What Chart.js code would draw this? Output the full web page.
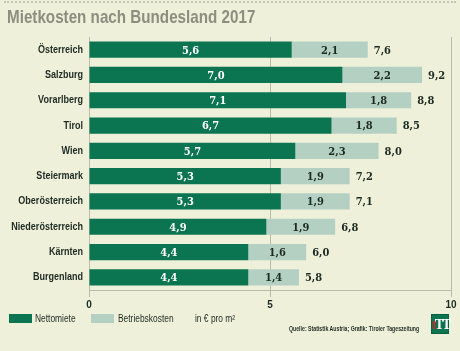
<!DOCTYPE html>
<html>
<head>
<meta charset="utf-8">
<script src="https://cdn.jsdelivr.net/npm/chart.js@4/dist/chart.umd.min.js"></script>
<style>
  body { margin: 0; background: #eef0da; }
  #wrap { position: relative; width: 460px; height: 351px; background: #eef0da; overflow: hidden; }
  #wrap:before { content: ''; position: absolute; left: 4px; right: 4px; top: 1px; border-top: 2px dotted #c4c6b4; }
  #chart { position: absolute; left: 0; top: 0; }
  .cond { position: absolute; white-space: nowrap; transform-origin: 0 0; font-family: "Liberation Sans", sans-serif; color: #1d2a22; }
  #title { left: 7px; top: 6px; font-size: 19px; font-weight: bold; color: #8c8e80; transform: scaleX(0.8); }
  .leg { top: 313px; font-size: 10px; transform: scaleX(0.84); }
  .box { position: absolute; top: 314px; width: 23px; height: 9px; }
  #src { left: 289px; top: 325px; font-size: 6.5px; font-weight: bold; transform: scaleX(0.8); }
  #logo { position: absolute; left: 431px; top: 314px; width: 18px; height: 20px; background: #0b7450; border: 1px solid #0a5e40; box-sizing: border-box;
          font: bold 14px "Liberation Serif", serif; color: #fff; text-align: center; line-height: 19px; letter-spacing: -2px; }
  #logo span { color: #d2232a; }
</style>
</head>
<body>
<div id="wrap">
  <canvas id="chart" width="460" height="351"></canvas>
  <div id="title" class="cond">Mietkosten nach Bundesland 2017</div>
  <div class="box" style="left:9px;background:#0b7450"></div>
  <div class="cond leg" style="left:35px">Nettomiete</div>
  <div class="box" style="left:91px;background:#b4d0c3"></div>
  <div class="cond leg" style="left:118px">Betriebskosten</div>
  <div class="cond leg" style="left:195px">in € pro m²</div>
  <div id="src" class="cond">Quelle: Statistik Austria; Grafik: Tiroler Tageszeitung</div>
  <div id="logo"><span>t</span>TT</div>
</div>
<script>
const ctx = document.getElementById('chart');

const laender = ['Österreich', 'Salzburg', 'Vorarlberg', 'Tirol', 'Wien', 'Steiermark', 'Oberösterreich', 'Niederösterreich', 'Kärnten', 'Burgenland'];
const nettomiete = [5.6, 7.0, 7.1, 6.7, 5.7, 5.3, 5.3, 4.9, 4.4, 4.4];
const betriebskosten = [2.1, 2.2, 1.8, 1.8, 2.3, 1.9, 1.9, 1.9, 1.6, 1.4];
const gesamt = [7.6, 9.2, 8.8, 8.5, 8.0, 7.2, 7.1, 6.8, 6.0, 5.8];
const xTicks = [0, 5, 10];

const fmt = v => v.toFixed(1).replace('.', ',');

// labels in and after the bars
const barLabels = {
  id: 'barLabels',
  afterDatasetsDraw(chart) {
    const c = chart.ctx;
    c.save();
    c.font = 'bold 11px "DejaVu Serif Condensed", serif';
    c.textBaseline = 'middle';
    c.textAlign = 'center';
    chart.data.datasets.forEach((ds, i) => {
      chart.getDatasetMeta(i).data.forEach((bar, j) => {
        c.fillStyle = i === 0 ? '#ffffff' : '#1d2a22';
        c.fillText(fmt(ds.data[j]), (bar.base + bar.x) / 2, bar.y + 1);
        if (i === 1) {
          c.textAlign = 'left';
          c.fillText(fmt(gesamt[j]), bar.x + 6, bar.y + 1);
          c.textAlign = 'center';
        }
      });
    });
    c.restore();
  }
};

// narrow category labels (no condensed font installed, so squeeze them)
const yLabels = {
  id: 'yLabels',
  afterDraw(chart) {
    const c = chart.ctx;
    const y = chart.scales.y;
    c.save();
    c.font = 'bold 11px "Liberation Sans", sans-serif';
    c.fillStyle = '#1d2a22';
    c.textAlign = 'right';
    c.textBaseline = 'middle';
    chart.data.labels.forEach((lab, i) => {
      c.save();
      c.translate(y.right - 6, y.getPixelForTick(i));
      c.scale(0.82, 1);
      c.fillText(lab, 0, 0);
      c.restore();
    });
    c.restore();
  }
};

new Chart(ctx, {
  type: 'bar',
  data: {
    labels: laender,
    datasets: [
      { label: 'Nettomiete', data: nettomiete, backgroundColor: '#0b7450' },
      { label: 'Betriebskosten', data: betriebskosten, backgroundColor: '#b4d0c3' }
    ]
  },
  options: {
    indexAxis: 'y',
    responsive: false,
    animation: false,
    barPercentage: 0.8,
    categoryPercentage: 0.8,
    layout: { padding: { left: 7, right: 9, top: 37, bottom: 41 } },
    plugins: {
      legend: { display: false },
      tooltip: { enabled: false }
    },
    scales: {
      x: {
        stacked: true,
        min: 0,
        max: 10,
        afterBuildTicks: s => { s.ticks = xTicks.map(v => ({ value: v })); },
        afterFit: s => { s.height = 20; },
        grid: { color: '#b9bcaa', tickLength: 7, lineWidth: 1 },
        border: { display: true, color: '#b9bcaa' },
        ticks: {
          color: '#1d2a22',
          padding: 2,
          maxRotation: 0,
          font: { family: '"Liberation Sans", sans-serif', size: 10, weight: 'bold' }
        }
      },
      y: {
        stacked: true,
        afterFit: s => { s.width = 82; },
        grid: { display: false },
        border: { display: false },
        ticks: { display: false }
      }
    }
  },
  plugins: [barLabels, yLabels]
});
</script>
</body>
</html>
